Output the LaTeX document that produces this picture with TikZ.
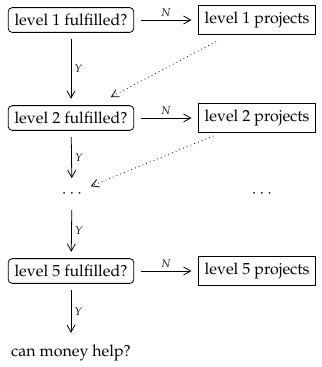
\documentclass[tikz,border=0pt]{standalone}
\usepackage[T1]{fontenc}
\usepackage{mathpazo}
\usetikzlibrary{arrows.meta}
\begin{document}
\begin{tikzpicture}[x=0.625pt,y=-0.625pt,
  question/.style={draw, rounded corners=2.5pt, inner sep=4pt, line width=0.5pt},
  project/.style={draw, inner sep=4pt, line width=0.5pt},
  flow/.style={-{Straight Barb[length=4.5pt,width=5pt]}, line width=0.5pt,
    shorten <=4pt, shorten >=4pt},
  hint/.style={flow, dotted},
  tag/.style={font=\scriptsize, inner sep=2pt}]
\useasboundingbox (0,0) rectangle (321,367);

% decision column and project column
\node[question] (q1) at (71,20) {level 1 fulfilled?};
\node[project]  (p1) at (257,20) {level 1 projects};
\node[question] (q2) at (71,118) {level 2 fulfilled?};
\node[project]  (p2) at (257,118) {level 2 projects};
\node (d)  at (72,194) {$\cdots$};
\node (dr) at (262,194) {$\cdots$};
\node[question] (q5) at (71,271) {level 5 fulfilled?};
\node[project]  (p5) at (257,271) {level 5 projects};
\node (m) at (71,353) {can money help?};

% "no" branches
\draw[flow] (q1) -- node[above, tag] {$N$} (p1);
\draw[flow] (q2) -- node[above, tag] {$N$} (p2);
\draw[flow] (q5) -- node[above, tag] {$N$} (p5);

% "yes" branches
\draw[flow] (q1) -- node[right, tag] {$Y$} (q2);
\draw[flow] (q2) -- node[right, tag] {$Y$} (d);
\draw[flow] (d)  -- node[right, tag] {$Y$} (q5);
\draw[flow] (q5) -- node[right, tag] {$Y$} (m);

% return paths after a project
\draw[hint, shorten <=9pt, shorten >=11pt] (p1) -- (q2);
\draw[hint, shorten <=5pt, shorten >=2pt] (p2) -- (d);
\end{tikzpicture}
\end{document}
